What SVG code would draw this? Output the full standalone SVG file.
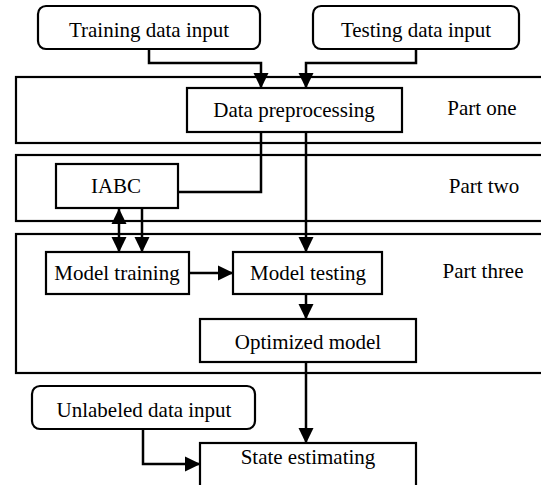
<svg xmlns="http://www.w3.org/2000/svg" width="541" height="485" viewBox="0 0 541 485">
<style>
  .box { fill: #fff; stroke: #000; stroke-width: 2.2; }
  .frame { fill: none; stroke: #000; stroke-width: 2.2; }
  .lbl { font-family: "Liberation Serif", "Times New Roman", serif; font-size: 21px; fill: #000; text-anchor: middle; }
  .conn { fill: none; stroke: #000; stroke-width: 2.5; }
</style>
<defs>
  <marker id="arr" markerUnits="userSpaceOnUse" markerWidth="16" markerHeight="16" refX="15" refY="8" orient="auto-start-reverse" viewBox="0 0 16 16">
    <path d="M0,0.5 L15.5,8 L0,15.5 z" fill="#000"/>
  </marker>
</defs>
<rect width="541" height="485" fill="#fff"/>

<g id="frames">
  <rect id="part-one" class="frame" x="16" y="77" width="540" height="66"/>
  <rect id="part-two" class="frame" x="16" y="155" width="540" height="66"/>
  <rect id="part-three" class="frame" x="16" y="234" width="540" height="139"/>
  <text class="lbl" x="482" y="115">Part one</text>
  <text class="lbl" x="484" y="193">Part two</text>
  <text class="lbl" x="483" y="278">Part three</text>
</g>

<g id="connectors">
  <polyline class="conn" points="149,49 149,63 261,63 261,88" marker-end="url(#arr)"/>
  <polyline class="conn" points="416,49 416,63 306,63 306,88" marker-end="url(#arr)"/>
  <polyline class="conn" points="261,132 261,192 178,192"/>
  <line class="conn" x1="306" y1="132" x2="306" y2="252" marker-end="url(#arr)"/>
  <line class="conn" x1="119" y1="209" x2="119" y2="252" marker-start="url(#arr)" marker-end="url(#arr)"/>
  <line class="conn" x1="142" y1="208" x2="142" y2="252" marker-end="url(#arr)"/>
  <line class="conn" x1="189" y1="273" x2="233" y2="273" marker-end="url(#arr)"/>
  <line class="conn" x1="306" y1="294" x2="306" y2="319" marker-end="url(#arr)"/>
  <line class="conn" x1="306" y1="362" x2="306" y2="443" marker-end="url(#arr)"/>
  <polyline class="conn" points="143,429 143,464 200,464" marker-end="url(#arr)"/>
</g>

<g id="training-input">
  <rect class="box" x="38" y="6" width="222" height="43" rx="8"/>
  <text class="lbl" x="149" y="37">Training data input</text>
</g>
<g id="testing-input">
  <rect class="box" x="313" y="6" width="206" height="43" rx="8"/>
  <text class="lbl" x="416" y="37">Testing data input</text>
</g>
<g id="data-preprocessing">
  <rect class="box" x="187" y="88" width="215" height="44"/>
  <text class="lbl" x="294" y="117">Data preprocessing</text>
</g>
<g id="iabc">
  <rect class="box" x="56" y="164" width="122" height="44"/>
  <text class="lbl" x="116" y="193">IABC</text>
</g>
<g id="model-training">
  <rect class="box" x="46" y="252" width="143" height="42"/>
  <text class="lbl" x="117" y="280">Model training</text>
</g>
<g id="model-testing">
  <rect class="box" x="233" y="252" width="149" height="42"/>
  <text class="lbl" x="308" y="280">Model testing</text>
</g>
<g id="optimized-model">
  <rect class="box" x="200" y="319" width="216" height="43"/>
  <text class="lbl" x="308" y="349">Optimized model</text>
</g>
<g id="unlabeled-input">
  <rect class="box" x="32" y="386" width="223" height="43" rx="8"/>
  <text class="lbl" x="144" y="417">Unlabeled data input</text>
</g>
<g id="state-estimating">
  <rect class="box" x="200" y="443" width="216" height="60"/>
  <text class="lbl" x="308" y="464">State estimating</text>
</g>
</svg>
